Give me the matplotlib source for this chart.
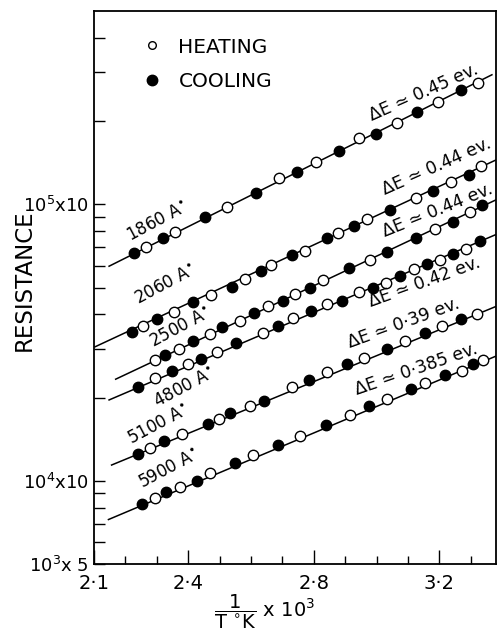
import matplotlib
matplotlib.use("Agg")
from matplotlib import pyplot as plt
from matplotlib.ticker import FixedLocator, FixedFormatter, NullFormatter

# film thickness (A) and activation energy label for each curve
thickness = ["1860", "2060", "2500", "4800", "5100", "5900"]
delta_e = ["0.45", "0.44", "0.44", "0.42", "0·39", "0·385"]

# 1/T x 10^3 and resistance (ohm) of the heating points (open circles)
heat_x = [
    [2.265, 2.358, 2.525, 2.689, 2.807, 2.945, 3.066, 3.195, 3.324],
    [2.257, 2.355, 2.473, 2.581, 2.664, 2.772, 2.878, 2.970, 3.125, 3.236, 3.332],
    [2.294, 2.371, 2.469, 2.565, 2.655, 2.740, 2.830, 2.979, 3.186, 3.297],
    [2.294, 2.398, 2.491, 2.639, 2.734, 2.843, 2.945, 3.030, 3.119, 3.202, 3.285],
    [2.278, 2.381, 2.498, 2.597, 2.730, 2.841, 2.960, 3.090, 3.207, 3.319],
    [2.294, 2.374, 2.469, 2.607, 2.756, 2.915, 3.034, 3.154, 3.271, 3.340],
]
heat_r = [
    [6.98e4, 7.96e4, 9.78e4, 1.24e5, 1.42e5, 1.74e5, 1.97e5, 2.35e5, 2.75e5],
    [3.62e4, 4.09e4, 4.69e4, 5.35e4, 6.02e4, 6.78e4, 7.90e4, 8.84e4, 1.05e5, 1.20e5, 1.37e5],
    [2.74e4, 3.00e4, 3.40e4, 3.77e4, 4.27e4, 4.73e4, 5.33e4, 6.30e4, 8.12e4, 9.38e4],
    [2.35e4, 2.64e4, 2.93e4, 3.42e4, 3.88e4, 4.35e4, 4.80e4, 5.21e4, 5.82e4, 6.29e4, 6.88e4],
    [1.31e4, 1.48e4, 1.67e4, 1.87e4, 2.18e4, 2.47e4, 2.77e4, 3.19e4, 3.62e4, 4.01e4],
    [8.67e3, 9.49e3, 1.07e4, 1.24e4, 1.45e4, 1.73e4, 1.98e4, 2.26e4, 2.50e4, 2.74e4],
]

# cooling points (filled circles)
cool_x = [
    [2.228, 2.321, 2.454, 2.616, 2.747, 2.881, 2.998, 3.128, 3.268],
    [2.222, 2.300, 2.414, 2.539, 2.632, 2.732, 2.843, 2.928, 3.041, 3.179, 3.295],
    [2.326, 2.416, 2.509, 2.611, 2.703, 2.788, 2.913, 3.034, 3.125, 3.244, 3.335],
    [2.239, 2.349, 2.441, 2.551, 2.685, 2.790, 2.889, 2.989, 3.075, 3.160, 3.244, 3.329],
    [2.239, 2.324, 2.464, 2.533, 2.642, 2.786, 2.905, 3.032, 3.154, 3.268],
    [2.254, 2.328, 2.427, 2.549, 2.685, 2.839, 2.977, 3.109, 3.218, 3.306],
]
cool_r = [
    [6.64e4, 7.52e4, 8.99e4, 1.10e5, 1.31e5, 1.56e5, 1.80e5, 2.16e5, 2.59e5],
    [3.46e4, 3.84e4, 4.44e4, 5.01e4, 5.73e4, 6.55e4, 7.52e4, 8.31e4, 9.57e4, 1.12e5, 1.28e5],
    [2.85e4, 3.19e4, 3.61e4, 4.04e4, 4.48e4, 5.00e4, 5.86e4, 6.70e4, 7.52e4, 8.63e4, 9.95e4],
    [2.19e4, 2.50e4, 2.75e4, 3.15e4, 3.62e4, 4.12e4, 4.48e4, 5.00e4, 5.48e4, 6.07e4, 6.59e4, 7.38e4],
    [1.25e4, 1.39e4, 1.61e4, 1.76e4, 1.95e4, 2.32e4, 2.64e4, 3.00e4, 3.42e4, 3.86e4],
    [8.26e3, 9.10e3, 1.00e4, 1.16e4, 1.35e4, 1.59e4, 1.86e4, 2.14e4, 2.41e4, 2.64e4],
]

# straight fitted lines, end points
fit_x = [[2.148, 3.367], [2.103, 3.382], [2.169, 3.382],
         [2.148, 3.382], [2.156, 3.382], [2.146, 3.382]]
fit_r = [[5.97e4, 2.94e5], [3.05e4, 1.45e5], [2.33e4, 1.04e5],
         [1.96e4, 7.79e4], [1.14e4, 4.28e4], [7.24e3, 2.83e4]]

# label anchors (bottom left of the text)
thick_pos = [(2.215, 7.38e4), (2.240, 4.36e4), (2.288, 3.05e4),
             (2.300, 1.85e4), (2.218, 1.36e4), (2.252, 9.36e3)]
de_pos = [(2.985, 1.995e5), (3.025, 1.08e5), (3.027, 7.6e4),
          (2.982, 4.25e4), (2.915, 3.02e4), (2.938, 2.04e4)]
de_rot = [24, 24, 22, 20, 20, 19]

fig = plt.figure(figsize=(4.97, 6.37), dpi=100)
ax = fig.add_axes([94/497, 1-564/637, 402/497, 553/637])
ax.set_yscale("log")
ax.set_xlim(2.1, 3.38)
ax.set_ylim(5e3, 5e5)

for i in range(len(thickness)):
    ax.plot(fit_x[i], fit_r[i], color="black", lw=1.1, zorder=1)
    h, = ax.plot(heat_x[i], heat_r[i], "o", ms=7.5, mfc="white", mec="black",
                 mew=1.0, zorder=3)
    c, = ax.plot(cool_x[i], cool_r[i], "o", ms=7.5, mfc="black", mec="black",
                 zorder=3)
    ax.text(*thick_pos[i], thickness[i] + r" A$^{\bullet}$", rotation=28,
            fontsize=12, ha="left", va="baseline", rotation_mode="anchor")
    ax.text(*de_pos[i], "ΔE ≃ " + delta_e[i] + " ev.", rotation=de_rot[i],
            fontsize=12.5, ha="left", va="baseline", rotation_mode="anchor")

leg = ax.legend([h, c], ["HEATING", "COOLING"], loc="upper left",
                bbox_to_anchor=(0.125, 0.952), frameon=False, fontsize=14.5,
                handlelength=0.8, handletextpad=0.9, labelspacing=0.75,
                borderpad=0, borderaxespad=0)
leg.legend_handles[0].set_markersize(5.5)
leg.legend_handles[1].set_markersize(7.5)

# ticks
ax.xaxis.set_major_locator(FixedLocator([2.1, 2.4, 2.8, 3.2]))
ax.xaxis.set_major_formatter(FixedFormatter(["2·1", "2·4", "2·8", "3·2"]))
ax.xaxis.set_minor_locator(FixedLocator([2.2, 2.3, 2.5, 2.6, 2.7, 2.9, 3.0, 3.1, 3.3]))
ax.yaxis.set_major_locator(FixedLocator([5e3, 1e4, 1e5]))
ax.yaxis.set_major_formatter(FixedFormatter([r"10$^{3}$x 5", r"10$^{4}$x10", r"10$^{5}$x10"]))
ax.yaxis.set_minor_locator(FixedLocator([6e3, 7e3, 8e3, 9e3, 2e4, 3e4, 4e4, 5e4,
                                         6e4, 7e4, 8e4, 9e4, 2e5, 3e5, 4e5]))
ax.yaxis.set_minor_formatter(NullFormatter())
ax.tick_params(axis="x", which="major", direction="in", length=10, width=1.0,
               labelsize=14, pad=7)
ax.tick_params(axis="x", which="minor", direction="in", length=6, width=1.0)
ax.tick_params(axis="y", which="both", direction="in", length=8, width=1.0,
               labelsize=13, pad=4)
for s in ax.spines.values():
    s.set_linewidth(1.3)

fig.text(24/497, 1-280/637, "RESISTANCE", rotation=90, fontsize=16.5,
         ha="center", va="center")
fig.text(265/497, 25/637, r"$\dfrac{1}{\mathrm{T\ ^{\circ}K}}$ x 10$^{3}$",
         fontsize=14, ha="center", va="center")

fig.savefig("out.png", dpi=100)
